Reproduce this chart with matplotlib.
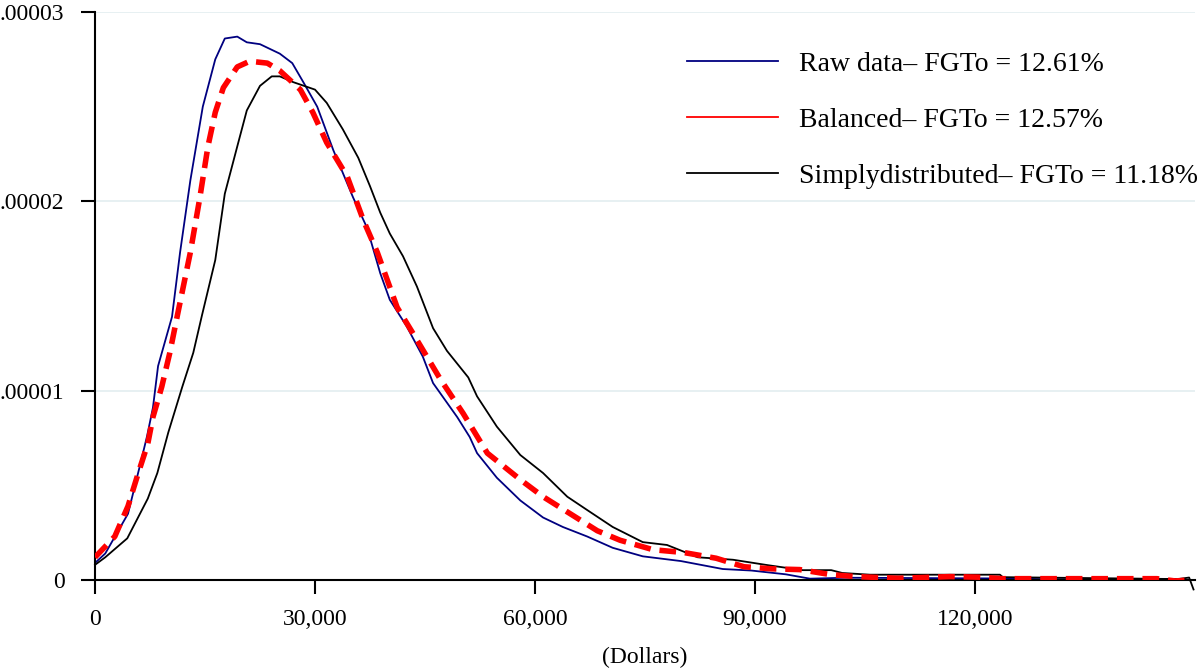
import matplotlib
matplotlib.use("Agg")
import matplotlib.pyplot as plt
from matplotlib.lines import Line2D
from matplotlib.ticker import FuncFormatter

plt.rcParams['font.family'] = ['Liberation Serif', 'DejaVu Serif']

# density values in units of 1e-5, income in dollars
raw_x = [0, 1400, 4500, 6100, 7100, 7900, 8600, 10500, 11600, 13000, 14700, 16400,
         17700, 19400, 20700, 22500, 25200, 26900, 28400, 30300, 32500, 35200, 37100,
         38900, 40200, 42500, 44700, 46100, 49400, 51100, 52100, 54800, 58000, 61100,
         63800, 67100, 70600, 74700, 79900, 85600, 89500, 94200, 97500, 102300, 123800,
         130000, 148000, 149500]
raw_y = [0.09, 0.14, 0.35, 0.60, 0.76, 0.91, 1.13, 1.39, 1.73, 2.11, 2.50, 2.75,
         2.86, 2.87, 2.84, 2.83, 2.78, 2.73, 2.63, 2.50, 2.27, 2.02, 1.86,
         1.62, 1.48, 1.34, 1.18, 1.04, 0.86, 0.755, 0.67, 0.54, 0.42, 0.33,
         0.28, 0.23, 0.17, 0.125, 0.10, 0.058, 0.05, 0.03, 0.007, 0.012, 0.008,
         0.004, 0.004, 0.0]

bal_x = [0, 2700, 4500, 5900, 7200, 7900, 9100, 10200, 11300, 13000, 14300, 15400,
         16400, 17500, 19400, 21100, 23500, 25200, 28000, 29700, 31600, 34400, 36600,
         38500, 41200, 43400, 47100, 50200, 53500, 58000, 61100, 64800, 68500, 71600,
         76100, 80300, 84700, 88500, 92300, 96100, 100400, 103800, 109500, 116600,
         120400, 123800, 144800, 147300, 149300]
bal_y = [0.12, 0.23, 0.39, 0.565, 0.72, 0.86, 1.02, 1.20, 1.41, 1.73, 2.02, 2.29,
         2.47, 2.60, 2.71, 2.74, 2.73, 2.69, 2.59, 2.47, 2.31, 2.13, 1.90,
         1.73, 1.44, 1.30, 1.06, 0.88, 0.67, 0.53, 0.44, 0.35, 0.26, 0.21,
         0.16, 0.145, 0.115, 0.07, 0.059, 0.055, 0.028, 0.018, 0.009, 0.018,
         0.015, 0.007, 0.007, -0.005, 0.0]

sim_x = [0, 1400, 4400, 7200, 8500, 10000, 11900, 13400, 14600, 16400, 17700, 19400,
         20700, 22500, 24100, 25200, 27000, 30000, 31600, 33800, 35900, 37500, 38900,
         40200, 42000, 43900, 46100, 48000, 50900, 52100, 54800, 58000, 61100, 64400,
         67100, 70600, 74700, 78000, 82200, 87000, 91800, 96500, 100400, 101900,
         105700, 123400, 123800, 147700, 149200, 149800]
sim_y = [0.08, 0.12, 0.22, 0.43, 0.565, 0.78, 1.02, 1.20, 1.40, 1.69, 2.04, 2.29,
         2.48, 2.61, 2.66, 2.66, 2.63, 2.59, 2.52, 2.38, 2.23, 2.08, 1.94,
         1.83, 1.71, 1.55, 1.33, 1.21, 1.07, 0.97, 0.81, 0.66, 0.565, 0.44,
         0.37, 0.28, 0.20, 0.185, 0.12, 0.107, 0.078, 0.052, 0.052, 0.037,
         0.028, 0.028, 0.015, 0.005, 0.013, -0.05]

labels = ['Raw data– FGTo = 12.61%',
          'Balanced– FGTo = 12.57%',
          'Simplydistributed– FGTo = 11.18%']
x_ticks = [0, 30000, 60000, 90000, 120000]
y_ticks = [0, 1, 2, 3]
y_tick_labels = ['0', '.00001', '.00002', '.00003']

fig = plt.figure(figsize=(12, 6.71), dpi=100)
ax = fig.add_axes([95 / 1200, 1 - 580 / 671, 1100 / 1200, 568 / 671])

for yv in y_ticks[1:]:
    ax.axhline(yv, color='#e3eef0', lw=1.2, zorder=0)

ax.plot(raw_x, raw_y, color='#000080', lw=1.3, zorder=2)
ax.plot(sim_x, sim_y, color='black', lw=1.3, zorder=2, clip_on=False)
ax.plot(bal_x, bal_y, color='#ff0000', lw=4.0, dashes=(3, 1.6), zorder=3)

ax.set_xlim(0, 150000)
ax.set_ylim(0, 3)
ax.set_xticks(x_ticks)
ax.xaxis.set_major_formatter(FuncFormatter(lambda v, p: '{:,.0f}'.format(v)))
ax.set_yticks(y_ticks)
ax.set_yticklabels(y_tick_labels)

for s in ['top', 'right']:
    ax.spines[s].set_visible(False)
for s in ['left', 'bottom']:
    ax.spines[s].set_linewidth(1.5)
ax.tick_params(axis='both', direction='out', length=10, width=1.5, labelsize=17)
ax.tick_params(axis='y', pad=12)
ax.tick_params(axis='x', pad=11)
ax.set_xlabel('(Dollars)', fontsize=17, labelpad=12)

handles = [Line2D([], [], color='#000080', lw=1.3),
           Line2D([], [], color='#ff0000', lw=1.3),
           Line2D([], [], color='black', lw=1.3)]
ax.legend(handles, labels, loc='upper left', bbox_to_anchor=(0.538, 0.93),
          frameon=False, fontsize=20, handlelength=3.3, handletextpad=0.75,
          labelspacing=1.1, borderpad=0, borderaxespad=0)

fig.savefig('out.png', dpi=100)
